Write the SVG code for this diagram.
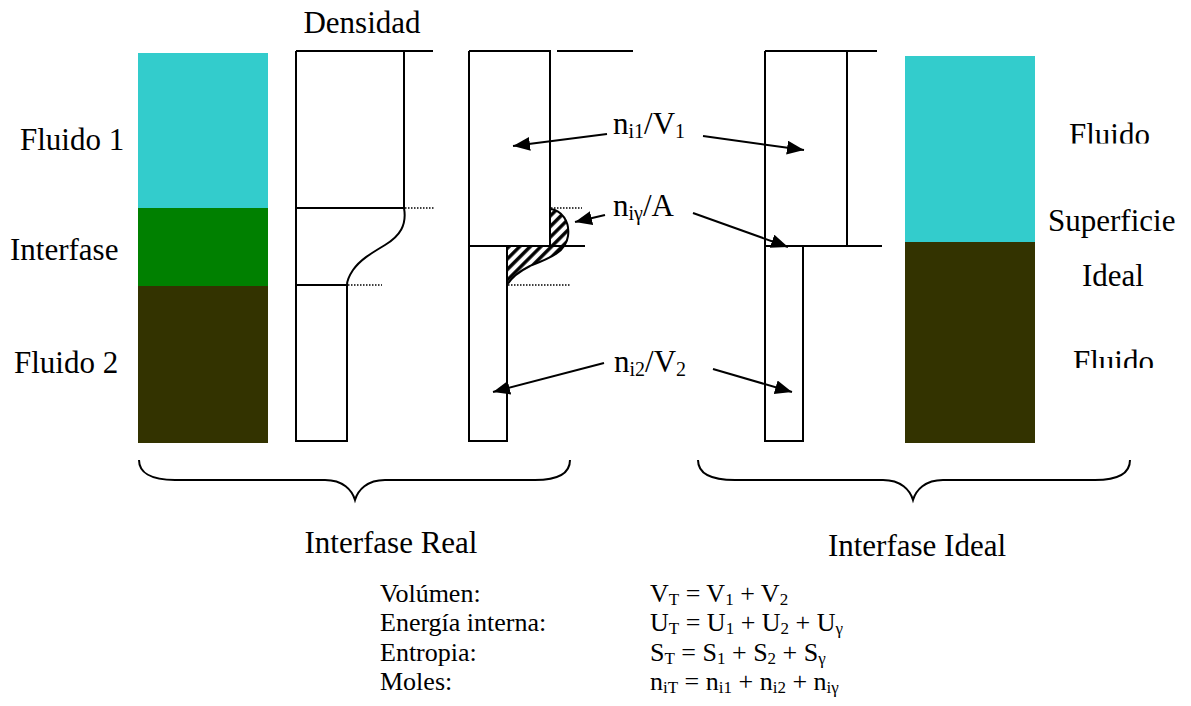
<svg xmlns="http://www.w3.org/2000/svg" width="1191" height="706" viewBox="0 0 1191 706">
<style>
text{font-family:"Liberation Serif","Times New Roman",serif;fill:#000}
.big{font-size:31px}
.eq{font-size:26px}
.ln{fill:none;stroke:#000;stroke-width:2}
.dot{fill:none;stroke:#000;stroke-width:1.5;stroke-dasharray:1.5 1.5}
.arr{fill:none;stroke:#000;stroke-width:2;marker-end:url(#ah)}
</style>
<defs>
<marker id="ah" markerUnits="userSpaceOnUse" markerWidth="20" markerHeight="16" refX="17" refY="7" orient="auto">
<path d="M0,0 L17,7 L0,14 Z" fill="#000"/>
</marker>
<pattern id="hatch" patternUnits="userSpaceOnUse" width="7.5" height="7.5" patternTransform="rotate(45)">
<line x1="1.8" y1="0" x2="1.8" y2="7.5" stroke="#000" stroke-width="3.4"/>
</pattern>
<clipPath id="c1"><rect x="1040" y="100" width="151" height="43.5"/></clipPath>
<clipPath id="c2"><rect x="1040" y="330" width="151" height="38"/></clipPath>
</defs>

<g id="bar-real">
<rect x="138" y="53" width="130" height="155" fill="#33CCCC"/>
<rect x="138" y="208" width="130" height="78" fill="#008000"/>
<rect x="138" y="286" width="130" height="157" fill="#333300"/>
</g>

<g id="labels-left">
<text class="big" x="20" y="150">Fluido 1</text>
<text class="big" x="10" y="260">Interfase</text>
<text class="big" x="14" y="373">Fluido 2</text>
</g>

<g id="density">
<text class="big" x="362" y="33" text-anchor="middle">Densidad</text>
<path class="ln" d="M296,51 L433,51 M296,51 L296,441 L347,441 L347,285 L296,285 M296,208 L404,208 L404,51 M404,208 C407,225 400,236 385,245 C370,254 360,260 353,270 C349,276 347,280 347,285"/>
<line class="dot" x1="405" y1="208" x2="434" y2="208"/>
<line class="dot" x1="348" y1="285" x2="382" y2="285"/>
</g>

<g id="excess">
<path d="M550,209 C562,210 570,222 568,236 C566,252 550,258 530,266 C518,272 511,278 507,285 L507,246 L550,246 Z" fill="url(#hatch)"/>
<path class="ln" d="M550,209 C562,210 570,222 568,236 C566,252 550,258 530,266 C518,272 511,278 507,285"/>
<path class="ln" d="M469,51 L550,51 L550,246 M557,51 L633,51 M469,51 L469,441 L507,441 L507,246 M469,246 L585,246"/>
<line class="dot" x1="551" y1="208" x2="582" y2="208"/>
<line class="dot" x1="508" y1="285" x2="571" y2="285"/>
</g>

<g id="ideal">
<path class="ln" d="M765,51 L877,51 M847,51 L847,246 M765,51 L765,441 L803,441 L803,246 M765,246 L882,246"/>
</g>

<g id="bar-ideal">
<rect x="905" y="56" width="130" height="186" fill="#33CCCC"/>
<rect x="905" y="242" width="130" height="201" fill="#333300"/>
</g>

<g id="labels-right">
<text class="big" x="1069" y="145" clip-path="url(#c1)">Fluido</text>
<text class="big" x="1048" y="231">Superficie</text>
<text class="big" x="1082" y="286">Ideal</text>
<text class="big" x="1073" y="372" clip-path="url(#c2)">Fluido</text>
</g>

<g id="quantities">
<text class="big" x="613" y="134">n<tspan font-size="20" dy="4">i1</tspan><tspan dy="-4">/V</tspan><tspan font-size="20" dy="4">1</tspan></text>
<text class="big" x="613" y="216">n<tspan font-size="20" dy="4">iγ</tspan><tspan dy="-4">/A</tspan></text>
<text class="big" x="614" y="372">n<tspan font-size="20" dy="4">i2</tspan><tspan dy="-4">/V</tspan><tspan font-size="20" dy="4">2</tspan></text>
</g>

<g id="connectors">
<line class="arr" x1="607" y1="134" x2="513" y2="146"/>
<line class="arr" x1="703" y1="136" x2="804" y2="150"/>
<line class="arr" x1="605" y1="215" x2="575" y2="222"/>
<line class="arr" x1="693" y1="213" x2="788" y2="247"/>
<line class="arr" x1="604" y1="363" x2="493" y2="392"/>
<line class="arr" x1="713" y1="369" x2="792" y2="392"/>
</g>

<g id="braces">
<path class="ln" d="M139,460 C139,472 150,480 175,480 L325,480 C343,480 352,490 355,500 C358,490 367,480 385,480 L535,480 C560,480 570,472 570,460"/>
<path class="ln" d="M698,460 C698,472 709,480 735,480 L883,480 C901,480 910,490 913,500 C916,490 925,480 943,480 L1095,480 C1120,480 1130,472 1130,460"/>
<text class="big" x="391" y="553" text-anchor="middle">Interfase Real</text>
<text class="big" x="917" y="556" text-anchor="middle">Interfase Ideal</text>
</g>

<g id="equations">
<text class="eq" x="380" y="602">Volúmen:</text>
<text class="eq" x="380" y="631">Energía interna:</text>
<text class="eq" x="380" y="661">Entropia:</text>
<text class="eq" x="380" y="690">Moles:</text>
<text class="eq" x="650" y="602">V<tspan font-size="17" dy="3">T</tspan><tspan dy="-3"> = V</tspan><tspan font-size="17" dy="3">1</tspan><tspan dy="-3"> + V</tspan><tspan font-size="17" dy="3">2</tspan></text>
<text class="eq" x="650" y="631">U<tspan font-size="17" dy="3">T</tspan><tspan dy="-3"> = U</tspan><tspan font-size="17" dy="3">1</tspan><tspan dy="-3"> + U</tspan><tspan font-size="17" dy="3">2</tspan><tspan dy="-3"> + U</tspan><tspan font-size="17" dy="3">γ</tspan></text>
<text class="eq" x="650" y="661">S<tspan font-size="17" dy="3">T</tspan><tspan dy="-3"> = S</tspan><tspan font-size="17" dy="3">1</tspan><tspan dy="-3"> + S</tspan><tspan font-size="17" dy="3">2</tspan><tspan dy="-3"> + S</tspan><tspan font-size="17" dy="3">γ</tspan></text>
<text class="eq" x="650" y="690">n<tspan font-size="17" dy="3">iT</tspan><tspan dy="-3"> = n</tspan><tspan font-size="17" dy="3">i1</tspan><tspan dy="-3"> + n</tspan><tspan font-size="17" dy="3">i2</tspan><tspan dy="-3"> + n</tspan><tspan font-size="17" dy="3">iγ</tspan></text>
</g>
</svg>
